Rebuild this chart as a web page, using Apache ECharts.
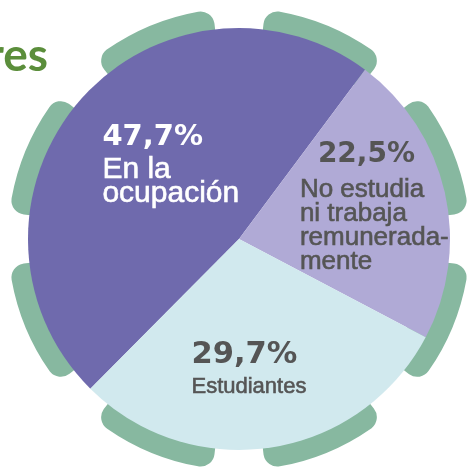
<!DOCTYPE html>
<html>
<head>
<meta charset="utf-8">
<script src="https://cdn.jsdelivr.net/npm/echarts@6/dist/echarts.min.js"></script>
<style>
html, body { margin: 0; padding: 0; background: #fff; }
#chart { width: 470px; height: 468px; }
</style>
</head>
<body>
<div id="chart"></div>
<script>
// datos del gráfico
var categories = ['En la\nocupación', 'No estudia\nni trabaja\nremunerada-\nmente', 'Estudiantes'];
var values = [47.7, 22.5, 29.7];
var sliceColors = ['#6f6aad', '#b0aad6', '#d1e9ee'];
var labelColors = ['#ffffff', '#555555', '#555555'];
var headText = 'res';

// pestañas verdes alrededor del círculo (decoración)
var tabCount = 8;
var tabSpan = 32;
var tabGap = 13;

var tabData = [];
for (var k = 0; k < tabCount; k++) {
    tabData.push({ value: tabSpan, itemStyle: { color: '#87b8a0' } });
    tabData.push({ value: tabGap, itemStyle: { color: 'rgba(0,0,0,0)' } });
}

// tamaños de letra de cada etiqueta
var pctSize = [29, 28, 30.5];
var nameSize = [30, 26, 22];
var pctLine = [41, 46.5, 40];
var nameLine = [24, 24, 24];
var pctPad = [0, 18, 0];
var labelShift = [[14, -7], [29.5, -12], [-6.5, 21]];

var pieData = values.map(function (v, i) {
    return {
        name: categories[i],
        value: v,
        itemStyle: { color: sliceColors[i] },
        label: {
            rich: {
                p: {
                    fontFamily: 'DejaVu Sans', fontWeight: 'bold',
                    fontSize: pctSize[i], lineHeight: pctLine[i],
                    color: labelColors[i], align: 'left',
                    padding: [0, 0, 0, pctPad[i]]
                },
                n: {
                    fontFamily: 'Liberation Sans',
                    fontSize: nameSize[i], lineHeight: nameLine[i],
                    color: labelColors[i], align: 'left',
                    textBorderColor: labelColors[i], textBorderWidth: 0.6
                }
            }
        }
    };
});

var option = {
    backgroundColor: '#ffffff',
    animation: false,
    graphic: [{
        type: 'text',
        style: {
            x: 48,
            y: 33,
            text: headText,
            fill: '#5b8e3b',
            font: 'bold 46px Lato',
            textAlign: 'right'
        }
    }],
    series: [{
        type: 'pie',
        silent: true,
        center: [239, 239],
        radius: [190, 231],
        startAngle: 128.5,
        clockwise: true,
        label: { show: false },
        labelLine: { show: false },
        itemStyle: { borderRadius: 14 },
        emphasis: { disabled: true },
        data: tabData
    }, {
        type: 'pie',
        silent: true,
        center: [239, 239],
        radius: [0, 211],
        startAngle: 225.2,
        clockwise: true,
        avoidLabelOverlap: false,
        emphasis: { disabled: true },
        label: {
            show: true,
            position: 'inside',
            formatter: function (params) {
                var pct = params.value.toFixed(1).replace('.', ',') + '%';
                var lines = params.name.split('\n').map(function (s) {
                    return '{n|' + s + '}';
                });
                return '{p|' + pct + '}\n' + lines.join('\n');
            }
        },
        labelLine: { show: false },
        labelLayout: function (params) {
            var s = labelShift[params.dataIndex];
            return { dx: s[0], dy: s[1] };
        },
        data: pieData
    }]
};

var chart = echarts.init(document.getElementById('chart'));
chart.setOption(option);
</script>
</body>
</html>
